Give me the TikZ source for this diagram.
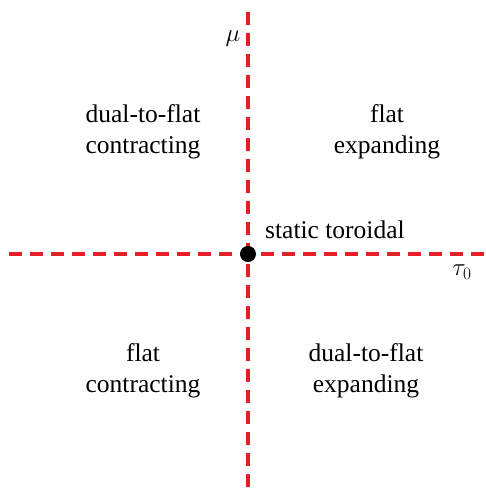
\documentclass[tikz,border=0pt]{standalone}
\usepackage{fontspec}
\setmainfont{Liberation Serif}
\definecolor{axred}{RGB}{230,30,38}
\begin{document}
\begin{tikzpicture}[x=1pt,y=-1pt,
  axis/.style={axred,line width=4pt,dash pattern=on 13pt off 8pt},
  lab/.style={font=\fontsize{25.5}{31.5}\selectfont,align=center,inner sep=0pt}]
\useasboundingbox (0,0) rectangle (486,491);
\coordinate (top) at (248,12);
\coordinate (bot) at (248,491);
\coordinate (left) at (9,254);
\coordinate (right) at (486,254);
\draw[axis] (left) -- (right);
\draw[axis] (top) -- (bot);
\node[circle,fill=black,minimum size=16pt,inner sep=0pt] (o) at (248,254) {};
\node[lab] (mu) at (233,39) {$\mu$};
\node[lab] (tau) at (462,272) {$\tau_0$};
\node[lab,anchor=west] (st) at (265,230) {static toroidal};
\node[lab] (q2) at (143,132) {dual-to-flat\\contracting};
\node[lab] (q1) at (387,132) {flat\\expanding};
\node[lab] (q3) at (143,371) {flat\\contracting};
\node[lab] (q4) at (366,371) {dual-to-flat\\expanding};
\end{tikzpicture}
\end{document}
